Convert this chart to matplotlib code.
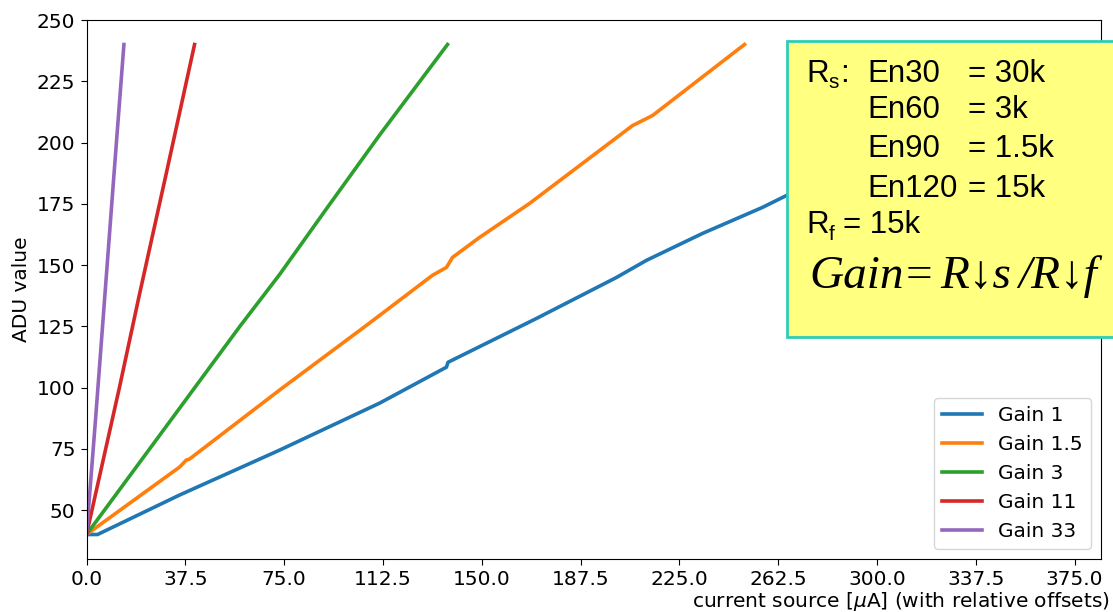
import matplotlib
matplotlib.use('Agg')
import matplotlib.pyplot as plt
import matplotlib.patches as patches
from matplotlib.ticker import MultipleLocator

# ADU response vs injected current, one curve per gain setting
labels = ['Gain 1', 'Gain 1.5', 'Gain 3', 'Gain 11', 'Gain 33']

gain1_x = [0, 4.2, 35.3, 73.2, 111.2, 136.6, 137.2, 170.8, 201.1, 212.5, 233.8, 256.5, 265.7, 366.7]
gain1_y = [40, 40, 56.1, 74.4, 93.6, 108.3, 110.3, 128.2, 144.9, 151.9, 162.9, 173.5, 178.4, 229]

gain15_x = [0, 35.3, 37.9, 39.1, 73.2, 106.3, 131.3, 136.6, 138.9, 149.1, 168.1, 207.2, 214.8, 249.7]
gain15_y = [40, 67.5, 70.4, 70.8, 98.9, 125.4, 145.8, 149.0, 153.1, 161.2, 175.1, 206.9, 211.0, 240]

gain3_x = [0, 27.7, 58.1, 73.2, 91.1, 111.2, 137.0]
gain3_y = [40, 80.4, 124.8, 146.0, 173.0, 203.0, 240]

gain11_x = [0, 12.5, 20.1, 30.4, 35.3, 41.0]
gain11_y = [40, 100, 138, 188, 212, 240]

gain33_x = [0, 3.5, 7.0, 10.5, 14.2]
gain33_y = [40, 88, 138, 188, 240]

series = [(gain1_x, gain1_y), (gain15_x, gain15_y), (gain3_x, gain3_y),
          (gain11_x, gain11_y), (gain33_x, gain33_y)]

W, H = 1113, 612
FS = 14.5


def px(x, y):
    """pixel position -> figure fraction"""
    return x / W, 1 - y / H


fig = plt.figure(figsize=(W / 100, H / 100), dpi=100)
ax = fig.add_axes([86.5 / W, 1 - 559 / H, (1101 - 86.5) / W, (559 - 20) / H])

for (xs, ys), lab in zip(series, labels):
    ax.plot(xs, ys, linewidth=2.6, label=lab)

ax.set_xlim(0, 385)
ax.set_ylim(30, 250)
ax.xaxis.set_major_locator(MultipleLocator(37.5))
ax.yaxis.set_major_locator(MultipleLocator(25))
ax.tick_params(labelsize=FS, length=4.5)
ax.set_ylabel('ADU value', fontsize=FS)
ax.set_xlabel(r'current source [$\mu$A] (with relative offsets)', fontsize=FS, ha='right')
ax.xaxis.set_label_coords(1.009, -0.058)
ax.legend(loc='lower right', fontsize=FS)

# resistor notes box laid over the upper right
box = patches.Rectangle(px(787, 337), (1140 - 787) / W, (337 - 41) / H,
                        transform=fig.transFigure, facecolor='#FFFF80',
                        edgecolor='#2FCDB8', linewidth=2, zorder=5, clip_on=False)
fig.add_artist(box)

sans = 'Liberation Sans'
txt = dict(fontsize=22.5, family=sans, zorder=6, va='baseline')
sub = dict(fontsize=15, family=sans, zorder=6, va='baseline')

fig.text(*px(806, 82), 'R', **txt)
fig.text(*px(828, 88), 's', **sub)
fig.text(*px(840, 82), ':', **txt)

rows = [('En30', '= 30k', 82), ('En60', '= 3k', 118),
        ('En90', '= 1.5k', 157), ('En120', '= 15k', 197)]
for name, val, base in rows:
    fig.text(*px(867, base), name, **txt)
    fig.text(*px(968, base), val, **txt)

fig.text(*px(806, 233), 'R', **txt)
fig.text(*px(829, 240), 'f', **sub)
fig.text(*px(843, 233), '= 15k', **txt)

serif = dict(fontsize=34, style='italic', family=['Liberation Serif', 'DejaVu Serif'],
             zorder=6, va='baseline')
fig.text(*px(809, 288), 'Gain', **serif)
fig.text(*px(903, 288), '=', **serif)
fig.text(*px(940, 288), 'R\u2193s', **serif)
fig.text(*px(1018, 288), '/R\u2193f', **serif)

fig.savefig('out.png', dpi=100)
